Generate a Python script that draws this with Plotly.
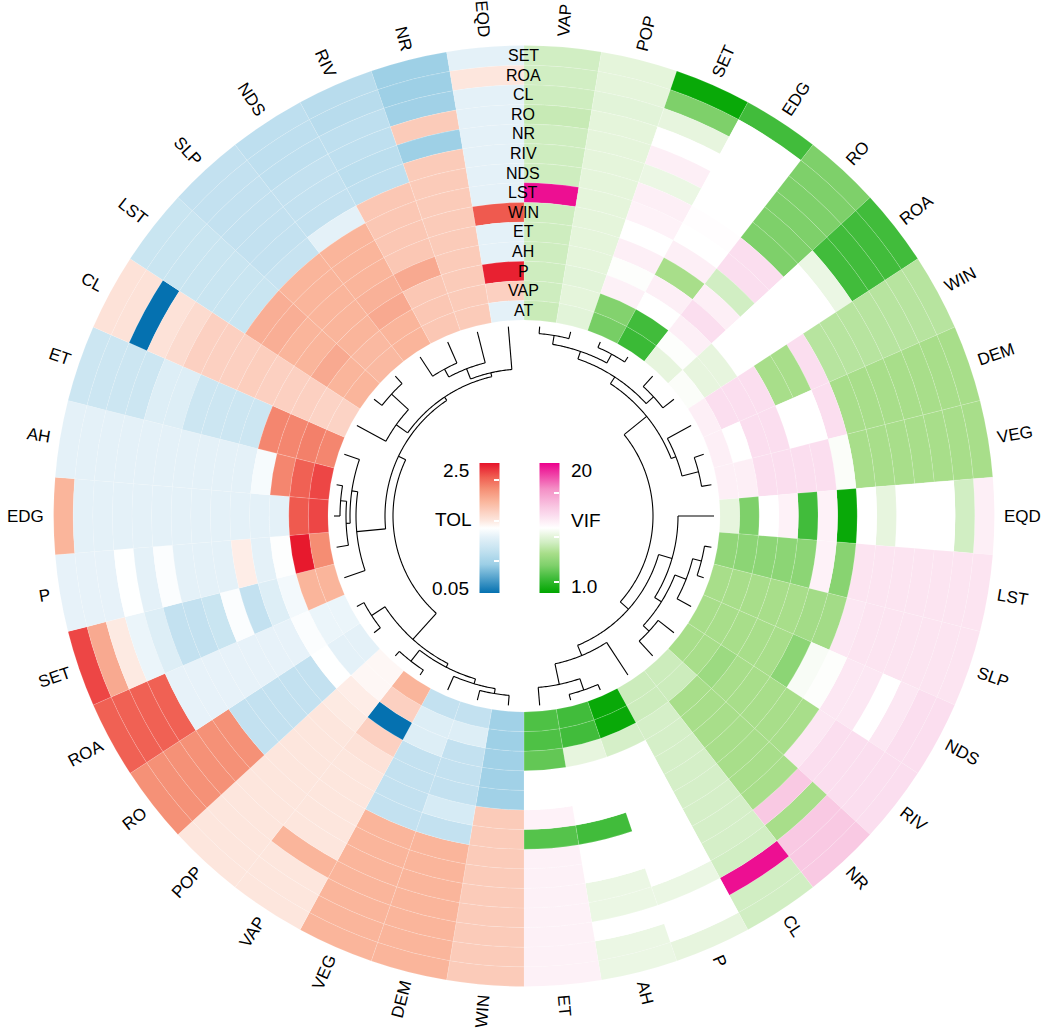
import numpy as np
import plotly.graph_objects as go

# ---------------- data ----------------
RINGS = ["SET", "ROA", "CL", "RO", "NR", "RIV", "NDS", "LST", "WIN", "ET", "AH", "P", "VAP", "AT"]  # outer -> inner

VIF_ROWS = ["VAP", "POP", "SET", "EDG", "RO", "ROA", "WIN", "DEM", "VEG", "EQD",
            "LST", "SLP", "NDS", "RIV", "NR", "CL", "P", "AH", "ET"]          # clockwise from top
TOL_ROWS = ["WIN", "DEM", "VEG", "VAP", "POP", "RO", "ROA", "SET", "P", "EDG",
            "AH", "ET", "CL", "LST", "SLP", "NDS", "RIV", "NR", "EQD"]          # clockwise from bottom

# VIF values (ring order SET ... AT)
VIF_VAP = [8.4, 8.4, 8.3, 8.0, 8.3, 8.3, 8.3, 19.6, 8.3, 8.3, 8.3, 8.3, 8.3, 8.1]
VIF_POP = [9.3, 9.3, 9.2, 9.3, 9.3, 9.3, 9.3, 9.3, 9.3, 9.3, 9.3, 9.2, 9.3, 9.2]
VIF_SET = [1.3, 5.0, 9.4, 10.5, 11.4, 9.6, 11.4, 11.2, 10.5, 11.4, 10.4, 11.3, 5.2, 4.8]
VIF_EDG = [3.2, 10.5, 10.5, 10.5, 10.5, 10.5, 10.6, 10.5, 11.4, 6.8, 11.4, 10.5, 3.2, 3.0]
VIF_RO = [5.0, 5.0, 5.0, 5.0, 5.0, 5.0, 12.3, 12.3, 8.4, 11.4, 12.3, 11.4, 10.4, 9.4]
VIF_ROA = [3.2, 3.2, 3.2, 3.2, 9.6, 10.5, 10.5, 10.5, 10.5, 10.5, 10.5, 9.4, 9.4, 10.3]
VIF_WIN = [7.4, 7.4, 7.4, 7.4, 7.4, 7.4, 7.4, 12.3, 6.8, 6.8, 12.3, 12.3, 12.3, 11.4]
VIF_DEM = [6.8, 6.8, 6.8, 6.8, 6.8, 6.8, 6.8, 12.3, 10.5, 10.5, 12.3, 12.3, 10.5, 11.4]
VIF_VEG = [6.8, 6.8, 6.8, 6.8, 6.8, 6.8, 6.8, 10.3, 12.3, 12.3, 12.3, 12.3, 11.4, 11.4]
VIF_EQD = [11.4, 8.4, 10.5, 10.5, 10.5, 9.4, 10.5, 1.3, 11.2, 3.2, 11.2, 10.5, 5.0, 9.4]
VIF_LST = [12.0, 12.0, 12.0, 12.0, 12.0, 12.0, 12.0, 5.4, 11.2, 5.6, 5.6, 5.6, 5.6, 5.8]
VIF_SLP = [12.0, 12.0, 12.0, 12.0, 12.0, 12.0, 11.8, 6.6, 6.6, 6.8, 6.8, 6.8, 6.8, 6.8]
VIF_NDS = [12.3, 12.3, 11.8, 10.5, 11.8, 11.8, 10.4, 10.2, 5.6, 6.8, 6.8, 6.8, 6.8, 6.8]
VIF_RIV = [12.3, 12.3, 12.3, 12.3, 12.3, 11.8, 6.8, 6.8, 6.8, 6.8, 6.8, 6.3, 6.8, 6.8]
VIF_NR = [13.5, 13.5, 13.5, 6.8, 13.5, 6.8, 6.8, 6.8, 6.8, 6.8, 6.8, 6.8, 8.2, 8.2]
VIF_CL = [8.4, 8.4, 19.6, 8.4, 8.6, 8.6, 8.6, 8.6, 8.6, 8.6, 8.6, 8.6, 8.2, 8.2]
VIF_P = [9.4, 10.5, 10.5, 9.6, 10.5, 10.5, 10.5, 10.5, 10.5, 10.5, 10.5, 8.6, 1.3, 1.3]
VIF_AH = [9.6, 9.6, 10.5, 9.6, 9.6, 10.5, 10.5, 3.2, 10.5, 10.5, 10.5, 9.4, 3.2, 3.2]
VIF_ET = [11.3, 11.3, 11.3, 11.3, 11.3, 11.3, 11.3, 3.8, 11.2, 10.5, 10.5, 4.2, 3.6, 3.6]

# TOL values (ring order SET ... AT)
TOL_WIN = [1.62, 1.62, 1.62, 1.62, 1.62, 1.62, 1.62, 1.62, 1.62, 0.62, 0.62, 0.62, 0.60, 0.62]
TOL_DEM = [1.78, 1.78, 1.78, 1.78, 1.78, 1.78, 1.78, 0.85, 1.00, 0.85, 0.85, 0.85, 1.05, 0.85]
TOL_VEG = [1.78, 1.78, 1.78, 1.78, 1.78, 1.78, 1.78, 0.85, 0.85, 0.85, 0.85, 1.05, 1.05, 0.85]
TOL_VAP = [1.42, 1.42, 1.42, 1.78, 1.42, 1.42, 1.42, 1.42, 1.42, 1.45, 1.58, 0.05, 1.58, 1.78]
TOL_POP = [1.42, 1.42, 1.42, 1.42, 1.42, 1.42, 1.42, 1.42, 1.42, 1.42, 1.40, 1.38, 1.32, 1.32]
TOL_RO = [2.00, 2.00, 2.00, 2.00, 2.00, 2.00, 0.85, 0.85, 0.85, 0.85, 0.85, 1.27, 1.10, 1.10]
TOL_ROA = [2.22, 2.22, 2.22, 2.22, 1.12, 1.12, 1.12, 1.12, 1.12, 1.12, 1.12, 1.25, 1.15, 1.15]
TOL_SET = [2.32, 1.85, 1.40, 1.15, 1.05, 0.85, 0.85, 0.90, 1.25, 0.85, 1.05, 1.20, 1.78, 1.78]
TOL_P = [1.12, 1.12, 1.12, 1.27, 1.10, 1.25, 1.10, 1.10, 1.10, 1.38, 1.10, 1.26, 2.48, 2.02]
TOL_EDG = [1.78, 1.10, 1.10, 1.10, 1.10, 1.10, 1.10, 1.10, 1.10, 1.10, 1.10, 1.10, 2.25, 2.32]
TOL_AH = [1.10, 1.10, 1.10, 1.10, 1.10, 1.10, 1.10, 1.10, 1.10, 1.10, 1.22, 2.05, 2.22, 2.32]
TOL_ET = [0.92, 0.92, 0.92, 0.92, 1.05, 1.05, 0.92, 0.92, 0.92, 0.92, 2.05, 2.05, 2.08, 2.05]
TOL_CL = [1.45, 1.45, 0.05, 1.45, 1.50, 1.58, 1.58, 1.58, 1.60, 1.58, 1.58, 1.58, 1.56, 1.56]
TOL_LST = [0.90, 0.90, 0.90, 0.90, 0.90, 0.90, 0.90, 1.82, 1.82, 1.78, 1.78, 1.85, 1.78, 1.78]
TOL_SLP = [0.85, 0.85, 0.85, 0.85, 0.85, 0.85, 0.88, 1.78, 1.78, 1.78, 1.78, 1.78, 1.75, 1.75]
TOL_NDS = [0.82, 0.82, 0.82, 0.85, 0.85, 0.85, 1.10, 1.78, 1.78, 1.78, 1.80, 1.85, 1.78, 1.78]
TOL_RIV = [0.78, 0.78, 0.82, 0.82, 0.80, 0.82, 1.65, 1.65, 1.65, 1.65, 1.85, 1.65, 1.65, 1.65]
TOL_NR = [0.60, 0.60, 0.62, 1.62, 0.60, 1.62, 1.62, 1.62, 1.62, 1.62, 1.62, 1.62, 1.62, 1.62]
TOL_EQD = [1.10, 1.42, 1.10, 1.10, 1.10, 1.10, 1.10, 1.10, 2.25, 1.10, 1.10, 2.45, 1.58, 1.10]

# dendrograms: (node, child a, child b, merge height)
VIF_TREE = [
    ("a1", "VAP", "POP", 7), ("a2", "SET", "EDG", 6), ("a3", "a1", "a2", 16),
    ("a4", "RO", "ROA", 14), ("a5", "a3", "a4", 24), ("a6", "DEM", "VEG", 10),
    ("a7", "WIN", "a6", 27), ("a8", "a5", "a7", 32),
    ("b1", "LST", "SLP", 7), ("b2", "b1", "NDS", 16), ("b3", "RIV", "NR", 20),
    ("b4", "b2", "b3", 28), ("b5", "EQD", "b4", 36), ("b6", "P", "AH", 6),
    ("b7", "b6", "ET", 18), ("b8", "CL", "b7", 39), ("b9", "b5", "b8", 50),
    ("root", "a8", "b9", 61),
]
TOL_TREE = [
    ("c1", "WIN", "DEM", 10), ("c2", "VEG", "c1", 15), ("c3", "VAP", "POP", 6),
    ("c4", "c2", "c3", 20), ("c5", "RO", "ROA", 8), ("c6", "c4", "c5", 24),
    ("d1", "EDG", "AH", 6), ("d2", "P", "d1", 12), ("d3", "d2", "ET", 16),
    ("d4", "SET", "d3", 22),
    ("e1", "NDS", "RIV", 23), ("e2", "e1", "NR", 32), ("e3", "e2", "EQD", 43),
    ("e4", "LST", "SLP", 10), ("e5", "CL", "e4", 33), ("e6", "e5", "e3", 47),
    ("f1", "d4", "e6", 51), ("root", "c6", "f1", 59),
]

TOL_RANGE = [0.05, 2.5]
VIF_RANGE = [1.0, 20.0]
TOL_TICK_LABELS = ["2.5", "0.05"]
VIF_TICK_LABELS = ["20", "1.0"]

VIF_M = {n: globals()["VIF_" + n] for n in VIF_ROWS}
TOL_M = {n: globals()["TOL_" + n] for n in TOL_ROWS}

# ---------------- geometry / style ----------------
W, H = 1045, 1028
OFF = 0                     # page body margin is removed by the post script
SCX, SCY = 524, 516         # wanted centre on screen
PW = 1000
ML = SCX - OFF - PW // 2
MT = SCY - OFF - PW // 2
MR = W - ML - PW
MB = H - MT - PW
RMAX = PW / 2
R_IN, RING = 196.0, 19.6
NSEC = len(VIF_ROWS) + len(TOL_ROWS)
SW = 360.0 / NSEC
R_LEAF = 190.0
FONT = "Liberation Sans, Arial, sans-serif"

TOL_SCALE = [[0.0, "#0571b0"], [0.22, "#9ccfe6"], [0.33, "#c4e2f0"], [0.43, "#e4f1f8"],
             [0.5, "#ffffff"], [0.56, "#fde6dd"], [0.62, "#fcd2c3"], [0.70, "#fab79e"],
             [0.80, "#f58f75"], [0.89, "#f05f52"], [1.0, "#e6132a"]]
VIF_SCALE = [[0.0, "#00a600"], [0.11, "#3dbb38"], [0.21, "#7ed06a"], [0.305, "#a8de8a"],
             [0.39, "#d1eec3"], [0.44, "#e6f5dd"], [0.5, "#ffffff"], [0.55, "#fdeef6"],
             [0.60, "#fbdcee"], [0.66, "#f9c8e3"], [0.80, "#f490c6"], [1.0, "#ec008c"]]


def scr_to_paper(x, y):
    return (x - OFF - ML) / PW, (H - MB - (y - OFF)) / PW


def to_paper(theta, r):
    t = np.radians(theta)
    return scr_to_paper(SCX + r * np.sin(t), SCY - r * np.cos(t))


def heat_trace(rows, mats, start, caxis):
    th, base, rr, col = [], [], [], []
    nr = len(RINGS)
    for i, name in enumerate(rows):
        for k, v in enumerate(mats[name]):
            th.append(start + (i + 0.5) * SW)
            base.append(R_IN + (nr - 1 - k) * RING)
            rr.append(RING)
            col.append(v)
    return go.Barpolar(theta=th, r=rr, base=base, width=[SW] * len(th),
                       marker=dict(color=col, coloraxis=caxis,
                                   line=dict(width=0.4, color="rgba(255,255,255,0.35)")),
                       hoverinfo="skip", showlegend=False)


def dendro(rows, start, tree):
    pos = {n: start + (i + 0.5) * SW for i, n in enumerate(rows)}
    rad = {n: R_LEAF for n in rows}
    th, rr = [], []
    for node, a, b, h in tree:
        rn = R_LEAF - h
        for c in (a, b):
            th += [pos[c], pos[c], None]
            rr += [rad[c], rn, None]
        n = max(2, int(abs(pos[b] - pos[a]) / 0.5) + 1)
        arc = np.linspace(pos[a], pos[b], n)
        th += list(arc) + [None]
        rr += [rn] * n + [None]
        pos[node] = (pos[a] + pos[b]) / 2
        rad[node] = rn
    return th, rr


fig = go.Figure()
fig.add_trace(heat_trace(VIF_ROWS, VIF_M, 0.0, "coloraxis2"))
fig.add_trace(heat_trace(TOL_ROWS, TOL_M, 180.0, "coloraxis"))

th1, r1 = dendro(VIF_ROWS, 0.0, VIF_TREE)
th2, r2 = dendro(TOL_ROWS, 180.0, TOL_TREE)
fig.add_trace(go.Scatterpolar(theta=th1 + th2, r=r1 + r2, mode="lines",
                              line=dict(color="black", width=1.1),
                              hoverinfo="skip", showlegend=False))

# ---------------- annotations ----------------
CW = {"A": .667, "C": .722, "D": .722, "E": .667, "G": .778, "H": .722, "I": .278, "L": .556,
      "M": .833, "N": .722, "O": .778, "P": .667, "Q": .778, "R": .722, "S": .667, "T": .611,
      "V": .667, "W": .944}
LAB_FS = 17
LAB_R0 = 480
ann = []


def sector_labels(rows, start, right):
    for i, n in enumerate(rows):
        th = start + (i + 0.5) * SW
        w = sum(CW.get(ch, .667) for ch in n) * LAB_FS
        x, y = to_paper(th, LAB_R0 + w / 2)
        ang = th - 90 if right else th - 270
        ann.append(dict(x=x, y=y, xref="paper", yref="paper", text=n, showarrow=False,
                        textangle=ang, xanchor="center", yanchor="middle",
                        font=dict(family=FONT, size=LAB_FS, color="black")))


sector_labels(VIF_ROWS, 0.0, True)
sector_labels(TOL_ROWS, 180.0, False)

nr = len(RINGS)
for k, n in enumerate(RINGS):
    rc = R_IN + (nr - 1 - k + 0.5) * RING
    x, y = scr_to_paper(523, SCY - rc)
    ann.append(dict(x=x, y=y, xref="paper", yref="paper",
                    text=n, showarrow=False, xanchor="center", yanchor="middle",
                    font=dict(family=FONT, size=16, color="black")))

LEG_FS = 19


def leg_text(txt, xs, ys, anchor):
    x, y = scr_to_paper(xs, ys)
    ann.append(dict(x=x, y=y, xref="paper", yref="paper",
                    text=txt, showarrow=False, xanchor=anchor, yanchor="middle",
                    font=dict(family=FONT, size=LEG_FS, color="black")))


leg_text(TOL_TICK_LABELS[0], 471, 471, "right")
leg_text("TOL", 474, 519, "right")
leg_text(TOL_TICK_LABELS[1], 471, 588, "right")
leg_text(VIF_TICK_LABELS[0], 569, 471, "left")
leg_text("VIF", 569, 520, "left")
leg_text(VIF_TICK_LABELS[1], 569, 586, "left")

BAR_TOP, BAR_BOT = 463, 593
BAR_LEN = BAR_BOT - BAR_TOP


def cbar(xc, vals):
    px, py = scr_to_paper(xc, (BAR_TOP + BAR_BOT) / 2)
    return dict(thickness=20, thicknessmode="pixels", len=BAR_LEN, lenmode="pixels",
                x=px, xanchor="center", y=py, yanchor="middle", outlinewidth=0,
                showticklabels=False, ticks="inside", ticklen=5, tickwidth=1.5,
                tickcolor="white", tickmode="array", tickvals=vals, xpad=0, ypad=0)


def tick_vals(rng, ys):
    return [rng[0] + (BAR_BOT - y) / BAR_LEN * (rng[1] - rng[0]) for y in ys]


fig.update_layout(
    width=W, height=H, margin=dict(l=ML, r=MR, t=MT, b=MB),
    paper_bgcolor="white", plot_bgcolor="white",
    polar=dict(domain=dict(x=[0, 1], y=[0, 1]), bgcolor="white", bargap=0, hole=0,
               radialaxis=dict(range=[0, RMAX], visible=False, showgrid=False),
               angularaxis=dict(rotation=90, direction="clockwise", visible=False,
                                showgrid=False)),
    coloraxis=dict(colorscale=TOL_SCALE, cmin=TOL_RANGE[0], cmax=TOL_RANGE[1],
                   colorbar=cbar(492, tick_vals(TOL_RANGE, [480, 521, 561]))),
    coloraxis2=dict(colorscale=VIF_SCALE, cmin=VIF_RANGE[0], cmax=VIF_RANGE[1],
                    colorbar=cbar(552, tick_vals(VIF_RANGE, [493, 537, 582]))),
    annotations=ann, showlegend=False,
)

fig.write_html("out.html", config={"displayModeBar": False},
               post_script="document.body.style.margin='0px';"
                           "document.body.style.overflow='hidden';")
